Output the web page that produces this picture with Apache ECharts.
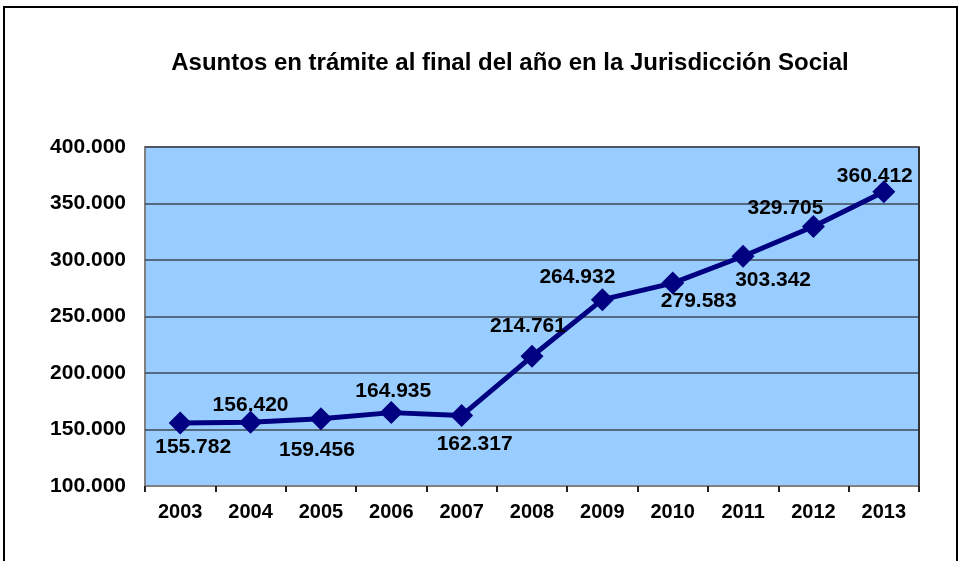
<!DOCTYPE html>
<html>
<head>
<meta charset="utf-8">
<script src="https://cdn.jsdelivr.net/npm/echarts@6/dist/echarts.min.js"></script>
<style>
    html, body { margin: 0; padding: 0; background: #fff; }
    #chart { width: 961px; height: 561px; }
</style>
</head>
<body>
<div id="chart"></div>
<script type="text/javascript">
    const years = ['2003', '2004', '2005', '2006', '2007', '2008', '2009', '2010', '2011', '2012', '2013'];
    const pending = [155782, 156420, 159456, 164935, 162317, 214761, 264932, 279583, 303342, 329705, 360412];
    const yTicks = { min: 100000, max: 400000, step: 50000 };

    // hand-placed label offsets (px from the marker centre), as in the original
    const labelOffsets = [[13, 24], [0, -17], [-4, 31], [2, -21], [13, 29], [-4, -30],
                          [-25, -22], [26, 18], [30, 24], [-28, -18], [-9, -16]];

    const fmt = v => String(v).replace(/\B(?=(\d{3})+(?!\d))/g, '.');
    const font = '"Liberation Sans", Arial, sans-serif';

    const chart = echarts.init(document.getElementById('chart'));

    chart.setOption({
        animation: false,
        title: {
            text: 'Asuntos en trámite al final del año en la Jurisdicción Social',
            left: 505,
            top: 46,
            textAlign: 'center',
            textStyle: { fontFamily: font, fontSize: 24, fontWeight: 'bold', color: '#000' }
        },
        graphic: [{
            type: 'rect',
            shape: { x: 4, y: 7, width: 953, height: 600 },
            style: { fill: 'none', stroke: '#000', lineWidth: 2 },
            silent: true
        }, {
            // darker right edge of the plot frame
            type: 'line',
            shape: { x1: 919, y1: 147, x2: 919, y2: 486 },
            style: { stroke: '#333', lineWidth: 2 },
            silent: true,
            z: 10
        }],
        grid: {
            left: 145, right: 42, top: 147, bottom: 75,
            show: true,
            backgroundColor: '#99CCFF',
            borderColor: '#808080',
            borderWidth: 2
        },
        xAxis: {
            type: 'category',
            data: years,
            boundaryGap: true,
            axisLine: { lineStyle: { color: '#808080', width: 2 } },
            axisTick: { show: true, length: 6, lineStyle: { color: '#222', width: 2 } },
            axisLabel: { margin: 16, color: '#000', fontFamily: font, fontSize: 20, fontWeight: 'bold' }
        },
        yAxis: {
            type: 'value',
            min: yTicks.min,
            max: yTicks.max,
            interval: yTicks.step,
            axisLine: { show: false },
            axisTick: { show: false },
            splitLine: { lineStyle: { color: '#3c4858', width: 1.5 } },
            axisLabel: {
                margin: 19, color: '#000', fontFamily: font, fontSize: 21, fontWeight: 'bold',
                formatter: fmt
            }
        },
        series: [{
            type: 'line',
            data: pending.map((v, i) => ({
                value: v,
                label: { offset: labelOffsets[i] }
            })),
            symbol: 'diamond',
            symbolSize: 23,
            lineStyle: { color: '#000080', width: 5 },
            itemStyle: { color: '#000080' },
            label: {
                show: true,
                position: 'inside',
                align: 'center',
                verticalAlign: 'middle',
                color: '#000',
                fontFamily: font,
                fontSize: 21,
                fontWeight: 'bold',
                formatter: p => fmt(p.value)
            }
        }]
    });
</script>
</body>
</html>
